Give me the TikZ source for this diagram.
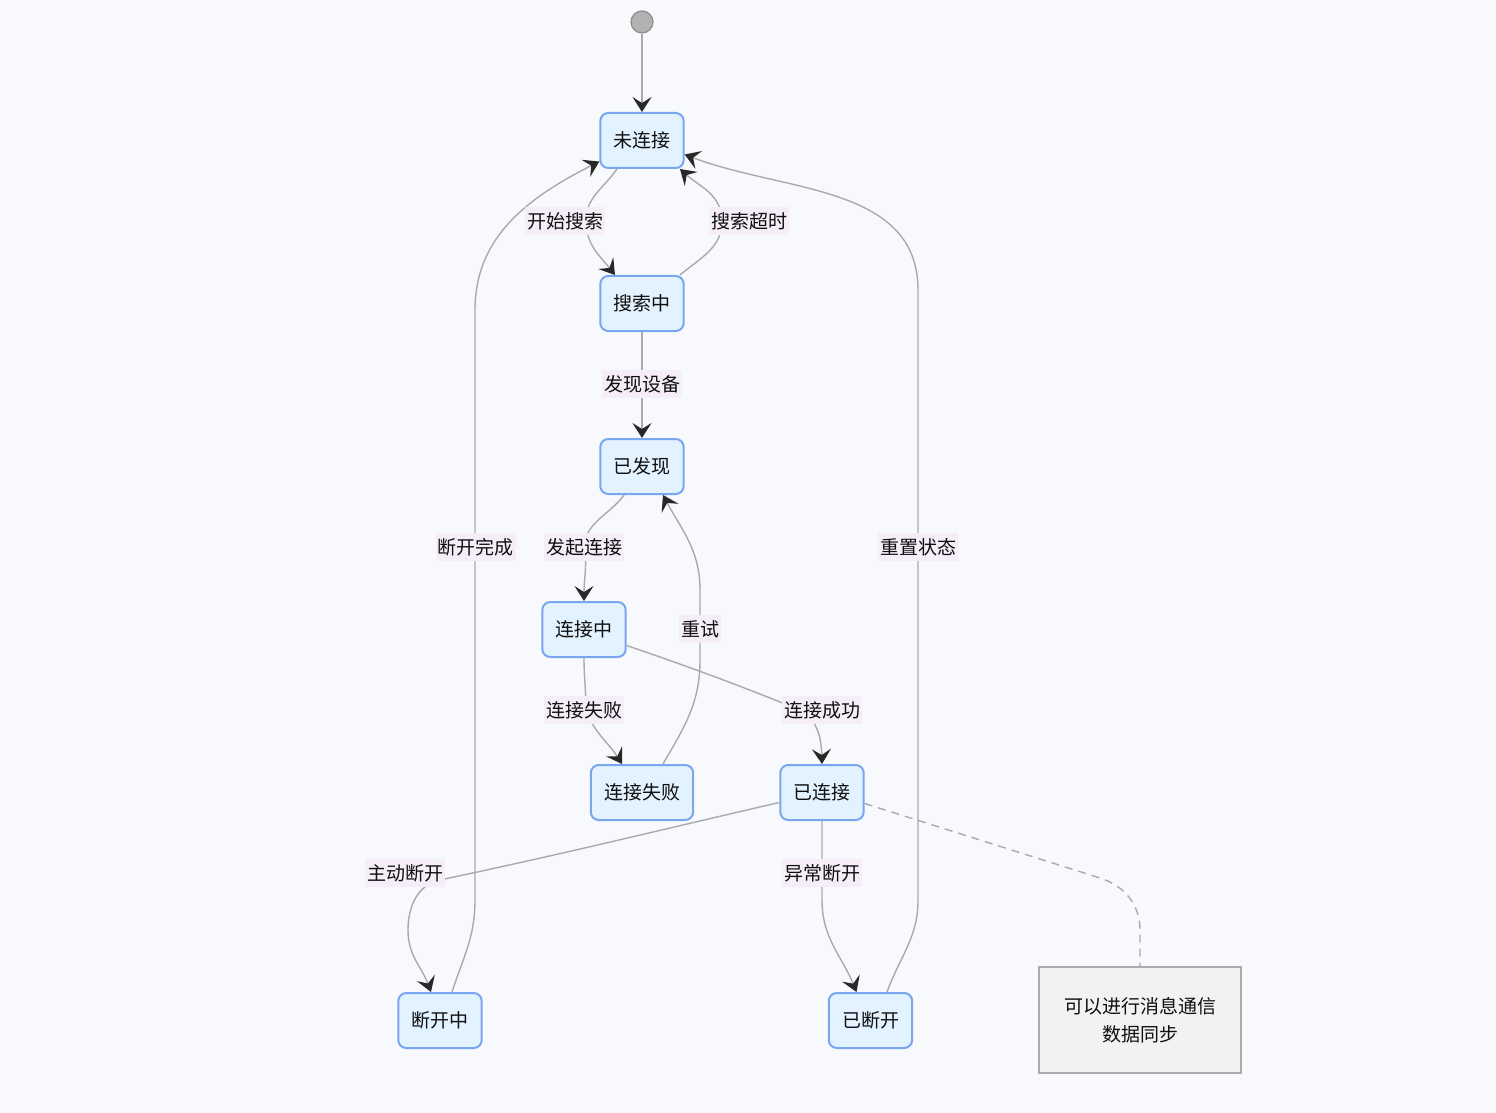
\documentclass[tikz,border=0pt]{standalone}
\usepackage{fontspec}
\newfontfamily\cjk{Noto Sans CJK SC}
\usetikzlibrary{arrows.meta}
\definecolor{bgc}{RGB}{248,249,252}
\definecolor{statefill}{RGB}{226,242,255}
\definecolor{statedraw}{RGB}{122,166,240}
\definecolor{edgec}{RGB}{170,170,170}
\definecolor{tipc}{RGB}{40,40,40}
\definecolor{lblfill}{RGB}{245,238,249}
\definecolor{notefill}{RGB}{242,242,243}
\definecolor{notedraw}{RGB}{170,170,170}
\definecolor{txt}{RGB}{15,15,15}
\begin{document}
\begin{tikzpicture}[x=0.5pt,y=0.5pt,
  every node/.style={font=\cjk\fontsize{9.5}{14}\selectfont, text=txt},
  stbox/.style={draw=statedraw, fill=statefill, line width=1pt, rounded corners=4pt,
    minimum height=27.5pt, inner xsep=6.6pt, inner ysep=0pt},
  startc/.style={circle, draw=gray!90, fill=gray!60, line width=0.6pt, minimum size=11pt, inner sep=0pt},
  notebox/.style={draw=notedraw, fill=notefill, line width=1pt, minimum width=101pt,
    minimum height=53pt, align=center},
  lbl/.style={fill=lblfill, inner xsep=1pt, inner ysep=2.5pt},
  edge/.style={draw=edgec, line width=0.7pt, -{Stealth[length=7.5pt,width=9.5pt,inset=3pt,color=tipc]}},
  dashedge/.style={draw=edgec, line width=0.7pt, dash pattern=on 4pt off 3pt}
]
\fill[bgc] (0,0) rectangle (1496,-1113);
\useasboundingbox (0,0) rectangle (1496,-1113);

% states
\node[startc] (st) at (642,-22) {};
\node[stbox] (u) at (642,-140.5) {未连接};
\node[stbox] (s) at (642,-303.5) {搜索中};
\node[stbox] (d) at (642,-466.5) {已发现};
\node[stbox] (c) at (584,-629.5) {连接中};
\node[stbox] (f) at (642,-792.5) {连接失败};
\node[stbox] (k) at (822,-792.5) {已连接};
\node[stbox] (o) at (440,-1020.5) {断开中};
\node[stbox] (x) at (870.5,-1020.5) {已断开};
\node[notebox] (n) at (1140,-1020) {可以进行消息通信\\数据同步};

% edges
\draw[edge] (st) -- (u);
\draw[edge] ([xshift=-12.5pt]u.south) to[out=-125,in=90] (586,-221) to[out=-90,in=128] ([xshift=-13.5pt]s.north);
\draw[edge] ([xshift=19pt]s.north) to[out=40,in=-90] (722,-221) to[out=90,in=-42] ([xshift=19pt]u.south);
\draw[edge] (s) -- (d);
\draw[edge] ([xshift=-9pt]d.south) to[out=-125,in=95,looseness=0.9] (585,-547) to[out=-85,in=90] (c.north);
\draw[edge] (c.south) to[out=-90,in=90] (586,-710) to[out=-70,in=122] ([xshift=-10pt]f.north);
\draw[edge] ([xshift=10.5pt]f.north) to[out=60,in=-90] (700,-660) -- (700,-590) to[out=90,in=-62] ([xshift=10.5pt]d.south);
\draw[edge] ([yshift=-8pt]c.east) to[out=-19,in=158] (800,-710) to[out=-30,in=92] (k.north);
\draw[edge] ([yshift=-5pt]k.west) to[out=-167,in=12] (440,-880) to[out=192,in=90] (408,-930) to[out=-90,in=110] ([xshift=-4.5pt]o.north);
\draw[edge] (k.south) -- (822,-900) to[out=-90,in=112] ([xshift=-7pt]x.north);
\draw[edge] ([xshift=6pt]o.north) to[out=72,in=-90] (475,-900) -- (475,-310) to[out=90,in=-153] ([yshift=-10.5pt]u.west);
\draw[edge] ([xshift=8.25pt]x.north) to[out=70,in=-90] (918,-900) -- (918,-290) to[out=90,in=-21] ([yshift=-7pt]u.east);
\draw[dashedge] ([yshift=-5.5pt]k.east) -- (1100,-878) to[out=-18,in=90] (1140,-930) -- (n.north);

% labels
\node[lbl] (l1) at (565,-221) {开始搜索};
\node[lbl] (l2) at (749,-221) {搜索超时};
\node[lbl] (l3) at (642,-384) {发现设备};
\node[lbl] (l4) at (584,-547) {发起连接};
\node[lbl] (l5) at (475.5,-547) {断开完成};
\node[lbl] (l6) at (918,-547) {重置状态};
\node[lbl] (l7) at (700,-629) {重试};
\node[lbl] (l8) at (584,-710) {连接失败};
\node[lbl] (l9) at (822,-710) {连接成功};
\node[lbl] (l10) at (405,-873) {主动断开};
\node[lbl] (l11) at (822,-873) {异常断开};
\end{tikzpicture}
\end{document}
